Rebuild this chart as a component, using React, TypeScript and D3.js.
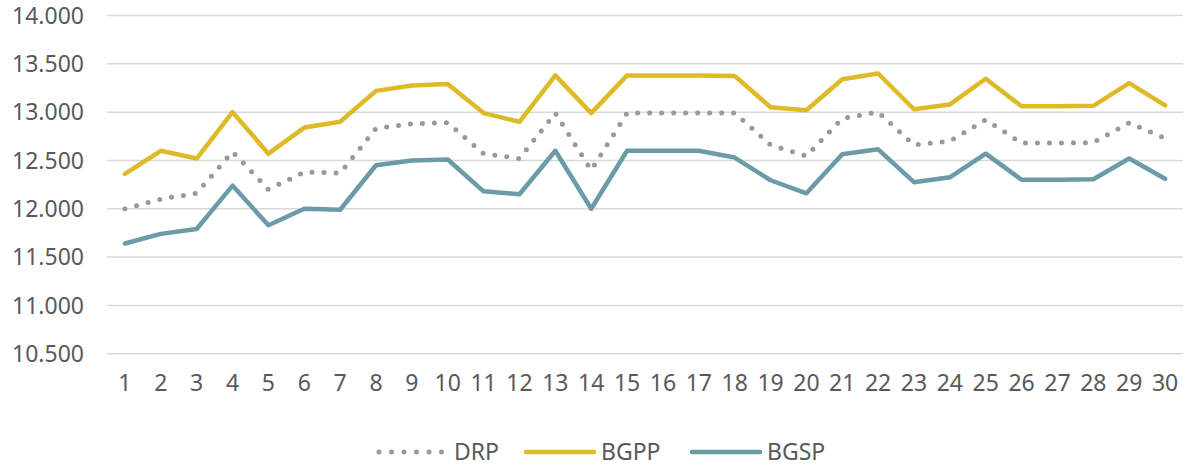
import React, { useEffect, useRef } from "react";
import * as d3 from "d3";

const days = d3.range(1, 31).map(String);

const drp = [
	12000, 12100, 12160, 12590, 12200, 12380, 12370, 12830, 12880, 12890,
	12570, 12520, 12990, 12400, 12990, 12990, 12990, 12990, 12660, 12545,
	12935, 13000, 12660, 12700, 12920, 12680, 12680, 12685, 12890, 12730,
];

const bgpp = [
	12360, 12600, 12520, 13000, 12570, 12840, 12900, 13220, 13275, 13290,
	12990, 12900, 13380, 12990, 13380, 13380, 13380, 13375, 13050, 13020,
	13340, 13400, 13030, 13080, 13345, 13060, 13060, 13065, 13300, 13070,
];

const bgsp = [
	11640, 11740, 11790, 12240, 11830, 12000, 11990, 12450, 12500, 12510,
	12180, 12150, 12600, 12000, 12600, 12600, 12600, 12530, 12295, 12160,
	12565, 12615, 12275, 12325, 12570, 12300, 12300, 12305, 12520, 12310,
];

const yTicks = [10500, 11000, 11500, 12000, 12500, 13000, 13500, 14000];

const series = [
	{ name: "DRP", values: drp, color: "#999999", dotted: true },
	{ name: "BGPP", values: bgpp, color: "#DEBA28", dotted: false },
	{ name: "BGSP", values: bgsp, color: "#6A9BA6", dotted: false },
];

const W = 1193;
const H = 469;
const FONT = "'Noto Sans', sans-serif";

const App: React.FC = () => {
	const svgRef = useRef<SVGSVGElement | null>(null);

	useEffect(() => {
		const svg = d3.select(svgRef.current);
		svg.selectAll("*").remove();

		const x = d3.scalePoint<string>().domain(days).range([107, 1183]).padding(0.5);
		const y = d3.scaleLinear().domain([10500, 14000]).range([353.7, 15.5]);

		const fmt = (v: number) => d3.format(",.3f")(v / 1000).replace(",", "");

		// grid
		svg.append("g")
			.selectAll("line")
			.data(yTicks)
			.enter()
			.append("line")
			.attr("x1", 107)
			.attr("x2", 1183)
			.attr("y1", (d) => y(d))
			.attr("y2", (d) => y(d))
			.attr("stroke", "#d9d9d9")
			.attr("stroke-width", 1.5);

		svg.append("g")
			.selectAll("text")
			.data(yTicks)
			.enter()
			.append("text")
			.attr("x", 84)
			.attr("y", (d) => y(d))
			.attr("dy", "0.36em")
			.attr("text-anchor", "end")
			.style("font-family", FONT)
			.style("font-size", "23px")
			.style("fill", "#595959")
			.text((d) => fmt(d));

		svg.append("g")
			.selectAll("text")
			.data(days)
			.enter()
			.append("text")
			.attr("x", (d) => x(d)!)
			.attr("y", 383)
			.attr("dy", "0.36em")
			.attr("text-anchor", "middle")
			.style("font-family", FONT)
			.style("font-size", "23px")
			.style("fill", "#595959")
			.text((d) => d);

		const line = d3
			.line<number>()
			.x((_, i) => x(days[i])!)
			.y((d) => y(d));

		series.forEach((s) => {
			svg.append("path")
				.datum(s.values)
				.attr("d", line)
				.attr("fill", "none")
				.attr("stroke", s.color)
				.attr("stroke-width", s.dotted ? 5 : 4.5)
				.attr("stroke-linejoin", "round")
				.attr("stroke-linecap", "round")
				.attr("stroke-dasharray", s.dotted ? "0 12" : null);
		});

		// legend
		const legendPos = [
			{ x1: 379, x2: 442, tx: 454 },
			{ x1: 526, x2: 594, tx: 601 },
			{ x1: 692, x2: 760, tx: 767 },
		];
		const lg = svg.append("g");
		series.forEach((s, i) => {
			const p = legendPos[i];
			lg.append("line")
				.attr("x1", p.x1)
				.attr("x2", p.x2)
				.attr("y1", 452)
				.attr("y2", 452)
				.attr("stroke", s.color)
				.attr("stroke-width", s.dotted ? 5 : 4.5)
				.attr("stroke-linecap", "round")
				.attr("stroke-dasharray", s.dotted ? "0 12.5" : null);
			lg.append("text")
				.attr("x", p.tx)
				.attr("y", 452)
				.attr("dy", "0.36em")
				.style("font-family", FONT)
				.style("font-size", "23px")
				.style("fill", "#595959")
				.text(s.name);
		});
	}, []);

	return (
		<svg
			ref={svgRef}
			width={W}
			height={H}
			style={{ position: "absolute", left: 0, top: 0, background: "#fff" }}
		></svg>
	);
};

export default App;
